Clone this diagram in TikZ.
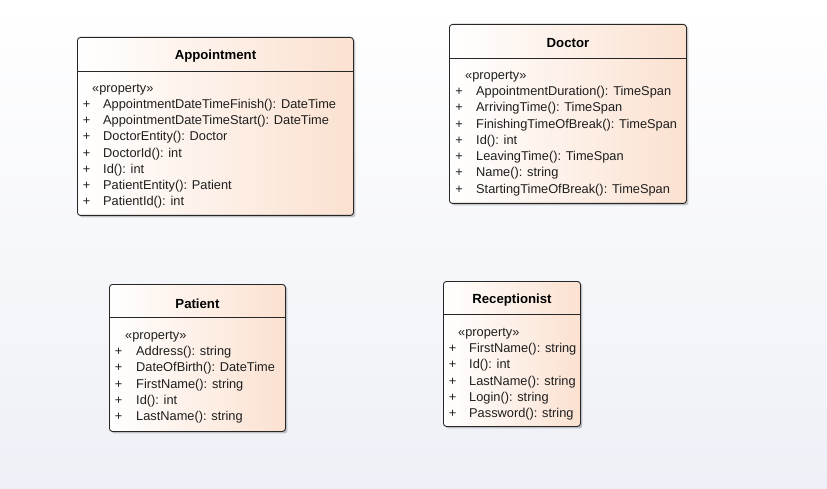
\documentclass[tikz,border=0pt]{standalone}
\usepackage{fontspec}
\setmainfont{Liberation Sans}
\usetikzlibrary{positioning,calc,shadows}
\definecolor{cPeach}{HTML}{FBE1D0}
\definecolor{cEdge}{HTML}{262626}
\definecolor{cBg}{HTML}{EEF0F7}
\definecolor{cText}{HTML}{1E1E1E}
\tikzset{
  classbox/.style={draw=cEdge,line width=0.9pt,rounded corners=3pt,
    left color=white,right color=cPeach,anchor=north west,inner sep=0pt,
    drop shadow={shadow xshift=2pt,shadow yshift=-2pt,opacity=.3,fill=black!70}},
  classname/.style={font=\fontsize{13.2}{15}\selectfont\bfseries,text=black},
  stereo/.style={anchor=west,inner sep=0pt,text height=9.5pt,text depth=3.5pt,
    font=\fontsize{12.8}{15}\selectfont,text=cText},
  attr/.style={stereo},
  vis/.style={stereo,anchor=center},
  divider/.style={draw=cEdge,line width=0.9pt},
}
\begin{document}
\begin{tikzpicture}[x=1pt,y=-1pt]
  % canvas
  \fill[top color=white,bottom color=cBg] (0,0) rectangle (827,489);
  \useasboundingbox (0,0) rectangle (827,489);

  % Appointment
  \node[classbox,minimum width=276pt,minimum height=178pt] (appt) at (77,37) {};
  \node[classname] (appt-name) at ($(appt.north)+(0,19.5)$) {Appointment};
  \draw[divider] ($(appt.north west)+(0,34)$) -- ($(appt.north east)+(0,34)$);
  \node[stereo] (appt-st) at ($(appt.north west)+(15,52.5)$) {«property»};
  \foreach \attr [count=\i from 0] in {AppointmentDateTimeFinish(): DateTime,
      AppointmentDateTimeStart(): DateTime,DoctorEntity(): Doctor,
      DoctorId(): int,Id(): int,PatientEntity(): Patient,PatientId(): int}{
    \node[vis] (appt-v\i) at ($(appt.north west)+(9.5,68.5+16.2*\i)$) {+};
    \node[attr] (appt-a\i) at ($(appt.north west)+(26,68.5+16.2*\i)$) {\attr};}

  % Doctor
  \node[classbox,minimum width=237pt,minimum height=179pt] (doc) at (449,24) {};
  \node[classname] (doc-name) at ($(doc.north)+(0,19.5)$) {Doctor};
  \draw[divider] ($(doc.north west)+(0,34)$) -- ($(doc.north east)+(0,34)$);
  \node[stereo] (doc-st) at ($(doc.north west)+(16,52.5)$) {«property»};
  \foreach \attr [count=\i from 0] in {AppointmentDuration(): TimeSpan,
      ArrivingTime(): TimeSpan,FinishingTimeOfBreak(): TimeSpan,Id(): int,
      LeavingTime(): TimeSpan,Name(): string,StartingTimeOfBreak(): TimeSpan}{
    \node[vis] (doc-v\i) at ($(doc.north west)+(10,68.5+16.3*\i)$) {+};
    \node[attr] (doc-a\i) at ($(doc.north west)+(27,68.5+16.3*\i)$) {\attr};}

  % Patient
  \node[classbox,minimum width=176pt,minimum height=147pt] (pat) at (109,284) {};
  \node[classname] (pat-name) at ($(pat.north)+(0,19.5)$) {Patient};
  \draw[divider] ($(pat.north west)+(0,33)$) -- ($(pat.north east)+(0,33)$);
  \node[stereo] (pat-st) at ($(pat.north west)+(16,52.5)$) {«property»};
  \foreach \attr [count=\i from 0] in {Address(): string,
      DateOfBirth(): DateTime,FirstName(): string,Id(): int,LastName(): string}{
    \node[vis] (pat-v\i) at ($(pat.north west)+(9.5,68.5+16.25*\i)$) {+};
    \node[attr] (pat-a\i) at ($(pat.north west)+(27,68.5+16.25*\i)$) {\attr};}

  % Receptionist
  \node[classbox,minimum width=137pt,minimum height=145pt] (rec) at (443,281) {};
  \node[classname] (rec-name) at ($(rec.north)+(0,19.5)$) {Receptionist};
  \draw[divider] ($(rec.north west)+(0,33)$) -- ($(rec.north east)+(0,33)$);
  \node[stereo] (rec-st) at ($(rec.north west)+(15,52.5)$) {«property»};
  \foreach \attr [count=\i from 0] in {FirstName(): string,Id(): int,
      LastName(): string,Login(): string,Password(): string}{
    \node[vis] (rec-v\i) at ($(rec.north west)+(9.5,68.5+16.25*\i)$) {+};
    \node[attr] (rec-a\i) at ($(rec.north west)+(26,68.5+16.25*\i)$) {\attr};}
\end{tikzpicture}
\end{document}
